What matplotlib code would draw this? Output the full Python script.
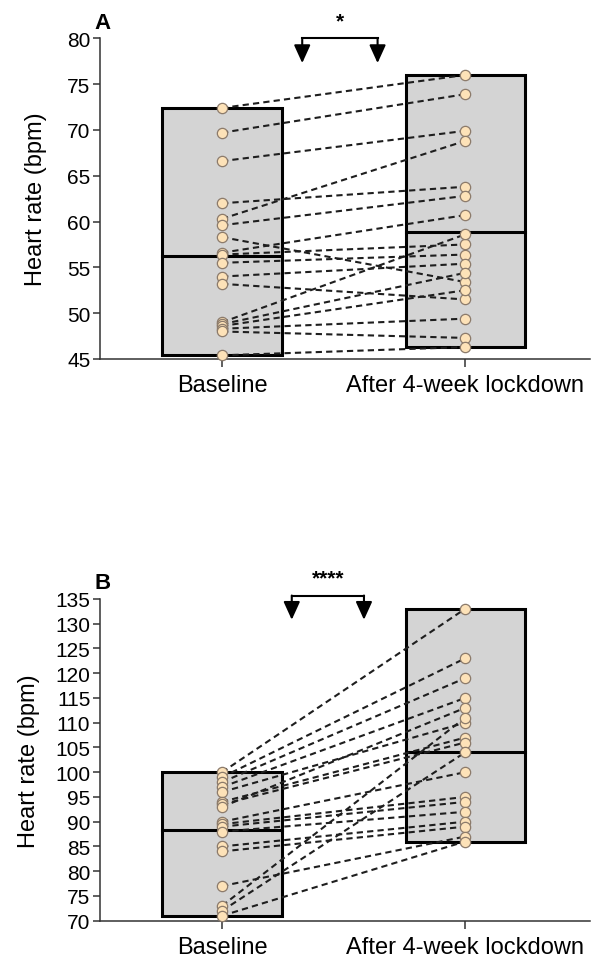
import numpy as np
import matplotlib
matplotlib.use('Agg')
import matplotlib.pyplot as plt

plt.rcParams['font.family'] = ['Liberation Sans', 'DejaVu Sans']

categories = ['Baseline', 'After 4-week lockdown']

# panel A: resting heart rate, paired subjects
a_base = [72.4, 69.7, 66.6, 62.0, 60.3, 59.6, 58.3, 56.6, 56.4, 55.5, 54.0, 53.2, 49.0, 48.8, 48.6, 48.3, 48.0, 45.4]
a_lock = [76.0, 73.9, 69.9, 63.8, 68.8, 62.8, 53.4, 60.7, 57.5, 56.4, 55.4, 51.5, 58.6, 54.4, 52.5, 49.4, 47.3, 46.3]
a_yticks = [45, 50, 55, 60, 65, 70, 75, 80]
a_sig = '*'

# panel B
b_base = [100, 99, 98, 97, 96, 94, 93.5, 93, 90, 89.5, 89, 88, 85, 84, 77, 73, 72, 71]
b_lock = [133, 123, 119, 115, 110, 107, 106, 113, 100, 95, 94, 92, 90, 89, 87, 111, 104, 86]
b_yticks = list(range(70, 136, 5))
b_sig = '****'

fig = plt.figure(figsize=(5.93, 9.62), dpi=100)
axA = fig.add_axes([0.1686, 0.6258, 0.8264, 0.3333])
axB = fig.add_axes([0.1686, 0.0419, 0.8264, 0.3344])


def panel(ax, base, lock, yticks, sig, brx, bry, letter):
    x = [0, 1]
    w = 0.49
    for xi, vals in zip(x, [base, lock]):
        lo, hi, mu = min(vals), max(vals), np.mean(vals)
        ax.bar(xi, hi - lo, bottom=lo, width=w, color='#d4d4d4',
               edgecolor='black', linewidth=2.2, zorder=1)
        ax.plot([xi - w / 2, xi + w / 2], [mu, mu], color='black', lw=2.2, zorder=2)
    for b, l in zip(base, lock):
        ax.plot(x, [b, l], color='#1e1e1e', lw=1.5, ls=(0, (3, 2)), zorder=3)
    ax.scatter([0] * len(base), base, s=55, color='#fde2b8', edgecolor='#8c7b6b',
               linewidth=0.9, zorder=4, clip_on=False)
    ax.scatter([1] * len(lock), lock, s=55, color='#fde2b8', edgecolor='#8c7b6b',
               linewidth=0.9, zorder=4, clip_on=False)

    ax.set_xlim(-0.502, 1.514)
    ax.set_ylim(yticks[0], yticks[-1])
    ax.set_yticks(yticks)
    ax.set_xticks(x)
    ax.set_xticklabels(categories, fontsize=17)
    ax.tick_params(axis='y', labelsize=15, length=5, width=1.1, pad=2, color='#333333')
    ax.tick_params(axis='x', length=6, width=1.1, pad=5, color='#333333')
    for s in ['top', 'right']:
        ax.spines[s].set_visible(False)
    for s in ['left', 'bottom']:
        ax.spines[s].set_linewidth(1.1)
        ax.spines[s].set_color('#333333')
    ax.set_ylabel('Heart rate (bpm)', fontsize=17)

    # significance bracket
    top, tip = bry
    ax.plot(brx, [top, top], color='black', lw=1.5, clip_on=False)
    for bx in brx:
        ax.annotate('', xy=(bx, tip), xytext=(bx, top), annotation_clip=False,
                    arrowprops=dict(arrowstyle='-|>,head_length=1.1,head_width=0.5',
                                    mutation_scale=10, color='black', lw=1.5,
                                    shrinkA=0, shrinkB=0))
    ax.annotate(sig, xy=(np.mean(brx), top), xytext=(0, 6), textcoords='offset points',
                ha='center', va='bottom', fontsize=15, fontweight='bold',
                annotation_clip=False)
    ax.text(-0.012, 1.018, letter, transform=ax.transAxes, fontsize=16,
            fontweight='bold', ha='left', va='bottom')


panel(axA, a_base, a_lock, a_yticks, a_sig, [0.33, 0.64], (80.0, 77.3), 'A')
panel(axB, b_base, b_lock, b_yticks, b_sig, [0.287, 0.584], (135.7, 130.8), 'B')
axA.yaxis.set_label_coords(-0.108, 0.5)
axB.yaxis.set_label_coords(-0.122, 0.5)

fig.savefig('out.png', dpi=100)
